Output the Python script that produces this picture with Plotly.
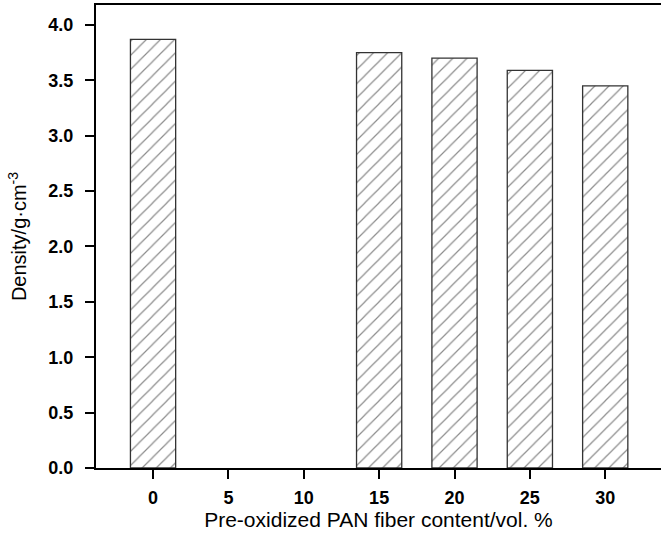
import plotly.graph_objects as go

categories = ["0", "5", "10", "15", "20", "25", "30"]
density = [3.87, None, None, 3.75, 3.70, 3.59, 3.45]
y_ticks = [0.0, 0.5, 1.0, 1.5, 2.0, 2.5, 3.0, 3.5, 4.0]
y_tick_labels = ["0.0", "0.5", "1.0", "1.5", "2.0", "2.5", "3.0", "3.5", "4.0"]

fig = go.Figure(
    go.Bar(
        x=categories,
        y=density,
        marker=dict(
            color="white",
            line=dict(color="#333333", width=1.3),
            pattern=dict(shape="/", fgcolor="#1a1a1a", bgcolor="white", size=10, solidity=0.12),
        ),
    )
)

font_family = "Liberation Sans, Arial, sans-serif"

fig.update_layout(
    width=661,
    height=543,
    margin=dict(l=96, r=0, t=5, b=75),
    plot_bgcolor="white",
    paper_bgcolor="white",
    bargap=0.4,
    showlegend=False,
    font=dict(family=font_family, color="black", size=16),
    xaxis=dict(
        type="category",
        categoryorder="array",
        categoryarray=categories,
        range=[-0.757, 6.74],
        showline=True,
        linecolor="black",
        linewidth=2,
        mirror=True,
        ticks="outside",
        ticklen=9,
        tickwidth=2,
        tickcolor="black",
        ticklabelstandoff=3,
        showgrid=False,
        tickfont=dict(family=font_family, size=18, color="black", weight="bold"),
        title=dict(text="Pre-oxidized PAN fiber content/vol. %", font=dict(size=21), standoff=3),
    ),
    yaxis=dict(
        range=[0, 4.18],
        tickvals=y_ticks,
        ticktext=y_tick_labels,
        showline=True,
        linecolor="black",
        linewidth=2,
        ticks="outside",
        ticklen=9,
        tickwidth=2,
        tickcolor="black",
        ticklabelstandoff=8,
        showgrid=False,
        zeroline=False,
        tickfont=dict(family=font_family, size=18, color="black", weight="bold"),
        title=dict(text="Density/g·cm<sup>-3</sup>", font=dict(size=20), standoff=16),
    ),
)

fig.write_html("out.html")
